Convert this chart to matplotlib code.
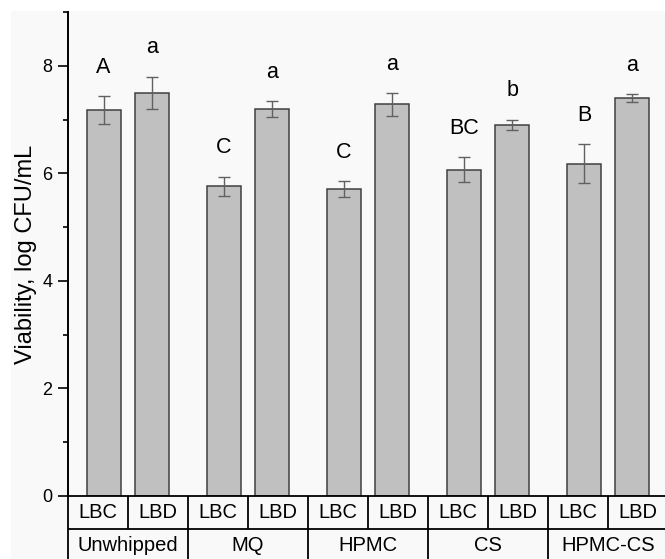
import matplotlib
matplotlib.use("Agg")
import matplotlib.pyplot as plt
import numpy as np
from matplotlib.patches import Rectangle

plt.rcParams['font.family'] = ['Liberation Sans', 'DejaVu Sans']

groups = ["Unwhipped", "MQ", "HPMC", "CS", "HPMC-CS"]
subs = ["LBC", "LBD"]
lbc = [7.17, 5.76, 5.71, 6.07, 6.18]
lbc_err = [0.26, 0.18, 0.15, 0.24, 0.36]
lbd = [7.50, 7.20, 7.28, 6.90, 7.40]
lbd_err = [0.30, 0.15, 0.22, 0.10, 0.08]
lbc_letters = ["A", "C", "C", "BC", "B"]
lbd_letters = ["a", "a", "a", "b", "a"]

W, H = 665, 559
fig = plt.figure(figsize=(W / 100, H / 100), dpi=100, facecolor="white")
fig.patches.append(Rectangle((11 / W, 0), 1, (H - 11) / H, transform=fig.transFigure,
                             facecolor="#f9f9f9", edgecolor="none", zorder=-10))

left_px, right_px = 67.5, 668.4
top_px, zero_px = 12, 496
ax = fig.add_axes([left_px / W, (H - zero_px) / H, (right_px - left_px) / W, (zero_px - top_px) / H])
ax.set_facecolor("none")

x = np.arange(len(groups))
off = 0.2
bw = 0.283
ekw = dict(ecolor="#606060", elinewidth=1.0, capsize=4.5, capthick=1.0)
ax.bar(x - off, lbc, bw, yerr=lbc_err, color="#c0c0c0", edgecolor="#404040", linewidth=1.1,
       error_kw=ekw, zorder=2)
ax.bar(x + off, lbd, bw, yerr=lbd_err, color="#c0c0c0", edgecolor="#404040", linewidth=1.1,
       error_kw=ekw, zorder=2)

for i in range(len(groups)):
    ax.text(x[i] - off, lbc[i] + lbc_err[i] + 0.43, lbc_letters[i], ha="center", va="baseline",
            fontsize=15.5)
    ax.text(x[i] + off, lbd[i] + lbd_err[i] + 0.43, lbd_letters[i], ha="center", va="baseline",
            fontsize=15.5)

ax.set_xlim(-0.5, len(groups) - 0.5)
ax.set_ylim(0, 9)
ax.set_yticks([0, 2, 4, 6, 8])
ax.set_yticks([1, 3, 5, 7, 9], minor=True)
ax.tick_params(axis="y", which="major", length=7, width=1.2, labelsize=13, pad=4)
ax.tick_params(axis="y", which="minor", length=3.5, width=1.2)
ax.set_xticks([])
for s in ["top", "right", "bottom"]:
    ax.spines[s].set_visible(False)
ax.spines["left"].set_linewidth(1.4)
ax.set_ylabel("Viability, log CFU/mL", fontsize=17, labelpad=4)

# table below
tab = fig.add_axes([left_px / W, (H - 562) / H, (right_px - left_px) / W, 66 / H])
tab.set_facecolor("none")
tab.set_xlim(-0.5, len(groups) - 0.5)
tab.set_ylim(0, 2)
tab.axis("off")
lw = 1.3
tab.hlines([2, 1, 0], -0.5, len(groups) - 0.5, color="black", linewidth=lw, clip_on=False)
sub_edges = np.arange(-0.5, len(groups), 0.5)
tab.vlines(sub_edges, 1, 2, color="black", linewidth=lw, clip_on=False)
grp_edges = np.arange(-0.5, len(groups), 1.0)
tab.vlines(grp_edges, 0, 1, color="black", linewidth=lw, clip_on=False)
for i, g in enumerate(groups):
    for j, s in enumerate(subs):
        tab.text(x[i] - 0.25 + 0.5 * j, 1.5, s, ha="center", va="center", fontsize=14.5)
    tab.text(x[i], 0.5, g, ha="center", va="center", fontsize=14.5)

fig.savefig("out.png", dpi=100, facecolor=fig.get_facecolor())
